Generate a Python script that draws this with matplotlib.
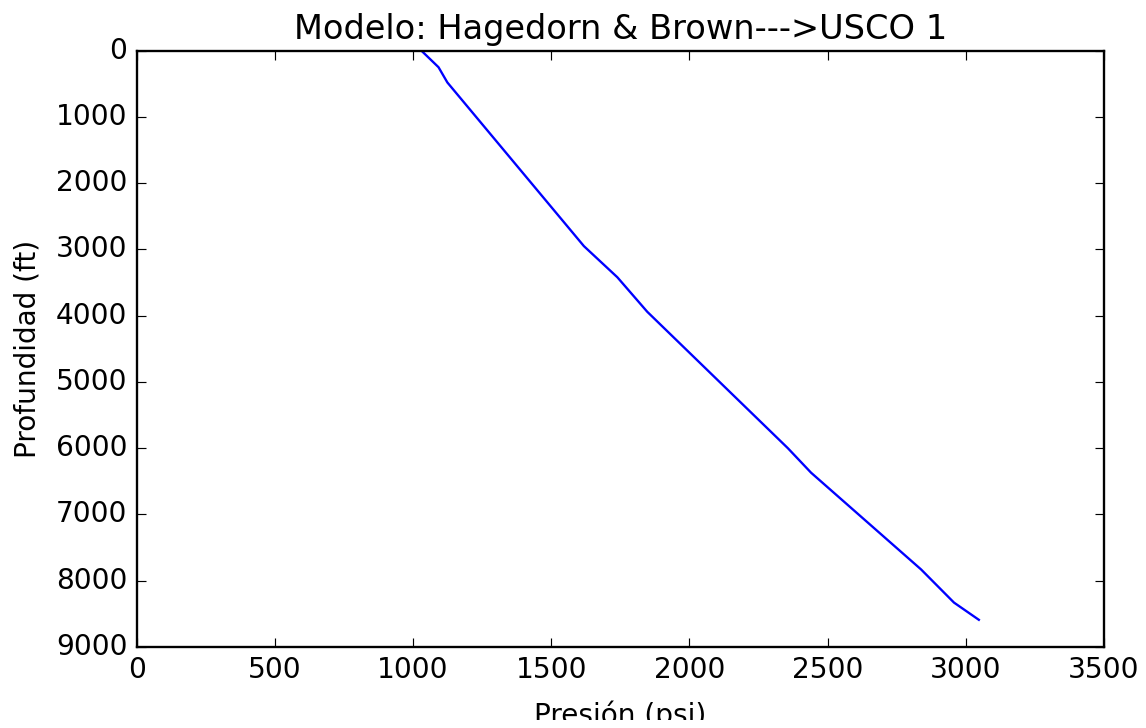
import matplotlib
matplotlib.use('Agg')
import matplotlib.pyplot as plt
from matplotlib.patches import Rectangle

# -----------------------------------------------------------
# pressure profile
# -----------------------------------------------------------

presion = [1030, 1092, 1124, 1618, 1739, 1847, 2356, 2440, 2838, 2957, 3047]
profundidad = [0, 250, 480, 2950, 3420, 3940, 6000, 6370, 7830, 8330, 8590]

# -----------------------------------------------------------
# figure
# -----------------------------------------------------------

plt.style.use('classic')

fig = plt.figure(figsize=(1146/168, 728/168), dpi=168, facecolor='white')
ax = fig.add_axes([0.1193, 0.1113, 0.8441, 0.8191])

ax.plot(presion, profundidad, 'b-')
ax.set_xlim(0, 3500)
ax.set_ylim(9000, 0)
ax.set_title('Modelo: Hagedorn & Brown--->USCO 1')
ax.set_xlabel('Presión (psi)', labelpad=7)
ax.set_ylabel('Profundidad (ft)', labelpad=6)

# the original image is clipped just below the x label
fig.patches.append(Rectangle((0, 0), 1, 8/728, transform=fig.transFigure,
                             facecolor='white', edgecolor='none', zorder=10))

fig.savefig('out.png', dpi=168, facecolor='white')
